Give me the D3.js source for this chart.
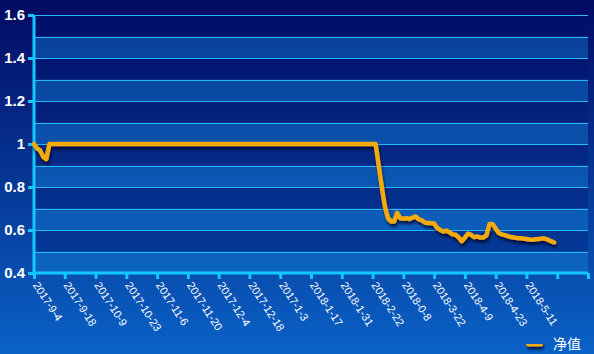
<!DOCTYPE html>
<html>
<head>
<meta charset="utf-8">
<script src="https://cdn.jsdelivr.net/npm/d3@7/dist/d3.min.js"></script>
<style>
    html, body { margin: 0; padding: 0; background: #02106a; }
    svg { display: block; font-family: "Liberation Sans", Arial, sans-serif; }
</style>
</head>
<body>
<div id="chart"></div>
<script>
// Category tick labels, one every 10 trading days
const tickLabels = [
    '2017-9-4', '2017-9-18', '2017-10-9', '2017-10-23', '2017-11-6', '2017-11-20',
    '2017-12-4', '2017-12-18', '2017-1-3', '2018-1-17', '2018-1-31', '2018-2-22',
    '2018-0-8', '2018-3-22', '2018-4-9', '2018-4-23', '2018-5-11'
];

// Net value (净值), one per trading day
const netValues = [
    1.00, 0.98, 0.97, 0.94, 0.93, 1.00, 1.00, 1.00, 1.00, 1.00,
    1.00, 1.00, 1.00, 1.00, 1.00, 1.00, 1.00, 1.00, 1.00, 1.00,
    1.00, 1.00, 1.00, 1.00, 1.00, 1.00, 1.00, 1.00, 1.00, 1.00,
    1.00, 1.00, 1.00, 1.00, 1.00, 1.00, 1.00, 1.00, 1.00, 1.00,
    1.00, 1.00, 1.00, 1.00, 1.00, 1.00, 1.00, 1.00, 1.00, 1.00,
    1.00, 1.00, 1.00, 1.00, 1.00, 1.00, 1.00, 1.00, 1.00, 1.00,
    1.00, 1.00, 1.00, 1.00, 1.00, 1.00, 1.00, 1.00, 1.00, 1.00,
    1.00, 1.00, 1.00, 1.00, 1.00, 1.00, 1.00, 1.00, 1.00, 1.00,
    1.00, 1.00, 1.00, 1.00, 1.00, 1.00, 1.00, 1.00, 1.00, 1.00,
    1.00, 1.00, 1.00, 1.00, 1.00, 1.00, 1.00, 1.00, 1.00, 1.00,
    1.00, 1.00, 1.00, 1.00, 1.00, 1.00, 1.00, 1.00, 1.00, 1.00,
    1.00, 1.00, 0.90, 0.80, 0.71, 0.655, 0.64, 0.64, 0.68, 0.655,
    0.652, 0.655, 0.651, 0.658, 0.663, 0.65, 0.645, 0.635, 0.632, 0.632,
    0.63, 0.61, 0.60, 0.593, 0.597, 0.59, 0.58, 0.578, 0.565, 0.548,
    0.565, 0.583, 0.578, 0.567, 0.57, 0.565, 0.565, 0.575, 0.628, 0.628,
    0.607, 0.586, 0.58, 0.576, 0.571, 0.567, 0.565, 0.563, 0.562, 0.56,
    0.558, 0.556, 0.555, 0.557, 0.558, 0.56, 0.56, 0.555, 0.548, 0.542
];

const yTicks = [0.4, 0.6, 0.8, 1, 1.2, 1.4, 1.6];
const seriesName = '净值';

const width = 594;
const height = 354;
const margin = { top: 15, right: 6, bottom: 81, left: 34 };

const svg = d3.select('#chart')
    .append('svg')
    .attr('width', width)
    .attr('height', height);

const defs = svg.append('defs');

// background gradient
const bg = defs.append('linearGradient')
    .attr('id', 'bg')
    .attr('x1', 0).attr('y1', 0).attr('x2', 0).attr('y2', 1);
bg.append('stop').attr('offset', '0%').attr('stop-color', '#020a62');
bg.append('stop').attr('offset', '100%').attr('stop-color', '#0a62c6');

// shadow under the line
const shadow = defs.append('filter')
    .attr('id', 'shadow')
    .attr('filterUnits', 'userSpaceOnUse')
    .attr('x', 0).attr('y', 0)
    .attr('width', width).attr('height', height);
shadow.append('feDropShadow')
    .attr('dx', 1).attr('dy', 3)
    .attr('stdDeviation', 1.5)
    .attr('flood-color', '#000020')
    .attr('flood-opacity', 0.75);

svg.append('rect')
    .attr('width', width)
    .attr('height', height)
    .attr('fill', 'url(#bg)');

// scales
const x = d3.scaleLinear()
    .domain([0, 180])
    .range([margin.left, width - margin.right]);

const y = d3.scaleLinear()
    .domain([0.4, 1.6])
    .range([height - margin.bottom, margin.top]);

// alternating split areas
const bands = d3.range(12).map(i => 0.4 + i * 0.1);
svg.append('g')
    .selectAll('rect')
    .data(bands)
    .join('rect')
    .attr('x', x(0))
    .attr('width', x(180) - x(0))
    .attr('y', d => y(d + 0.1))
    .attr('height', d => y(d) - y(d + 0.1))
    .attr('fill', (d, i) => i % 2 === 0 ? 'rgba(20,130,220,0.42)' : 'rgba(0,20,110,0.30)');

// grid lines every 0.1
svg.append('g')
    .selectAll('line')
    .data(d3.range(13).map(i => 0.4 + i * 0.1))
    .join('line')
    .attr('x1', x(0))
    .attr('x2', x(180))
    .attr('y1', d => Math.round(y(d)) + 0.5)
    .attr('y2', d => Math.round(y(d)) + 0.5)
    .attr('stroke', '#25b8f2')
    .attr('stroke-width', 1);

// y axis
const yAxis = svg.append('g')
    .attr('transform', `translate(${x(0)},0)`)
    .call(d3.axisLeft(y).tickValues(yTicks).tickSize(6).tickFormat(d3.format('')));
yAxis.select('.domain').remove();
yAxis.selectAll('.tick line').attr('stroke', '#12c8ff').attr('stroke-width', 3);
yAxis.selectAll('.tick text')
    .attr('x', -9)
    .attr('fill', '#ffffff')
    .style('font-size', '15px')
    .style('font-weight', 'bold')
    .style('font-family', '"Liberation Sans", Arial, sans-serif');
yAxis.append('line')
    .attr('x1', 0).attr('x2', 0)
    .attr('y1', y(1.6)).attr('y2', y(0.4))
    .attr('stroke', '#12c8ff')
    .attr('stroke-width', 3);

// x axis
const xTickValues = d3.range(0, 181, 10);
const xAxis = svg.append('g')
    .attr('transform', `translate(0,${y(0.4)})`)
    .call(d3.axisBottom(x)
        .tickValues(xTickValues)
        .tickSize(6)
        .tickFormat(d => tickLabels[d / 10] || ''));
xAxis.select('.domain').remove();
xAxis.append('line')
    .attr('x1', x(0) - 1.5).attr('x2', x(180))
    .attr('y1', 0).attr('y2', 0)
    .attr('stroke', '#12c8ff')
    .attr('stroke-width', 3);
xAxis.selectAll('.tick line').attr('stroke', '#12c8ff').attr('stroke-width', 3);
xAxis.selectAll('.tick text')
    .attr('fill', '#ffffff')
    .attr('text-anchor', 'start')
    .attr('dy', 0)
    .attr('transform', 'translate(-2,12) rotate(57)')
    .attr('x', 0)
    .attr('y', 0)
    .style('font-size', '11px')
    .style('font-family', '"Liberation Sans", Arial, sans-serif');

// the net value line
const line = d3.line()
    .x((d, i) => x(i))
    .y(d => y(d))
    .curve(d3.curveLinear);

svg.append('path')
    .datum(netValues)
    .attr('d', line)
    .attr('fill', 'none')
    .attr('stroke', '#f2aa0c')
    .attr('stroke-width', 4.5)
    .attr('stroke-linejoin', 'round')
    .attr('stroke-linecap', 'round')
    .attr('filter', 'url(#shadow)');

// legend
const legend = svg.append('g')
    .attr('transform', 'translate(526,344)');
legend.append('rect')
    .attr('x', 0).attr('y', -2.5)
    .attr('width', 17).attr('height', 5)
    .attr('rx', 2.5)
    .attr('fill', '#f2aa0c')
    .attr('filter', 'url(#shadow)');
legend.append('text')
    .attr('x', 27)
    .attr('y', 5)
    .attr('fill', '#ffffff')
    .style('font-size', '14px')
    .style('font-family', '"Noto Sans CJK SC", sans-serif')
    .text(seriesName);
</script>
</body>
</html>
